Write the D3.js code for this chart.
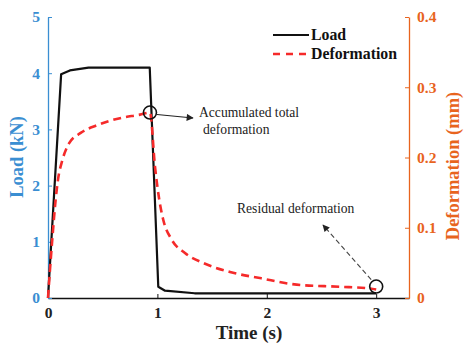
<!DOCTYPE html>
<html>
<head>
<meta charset="utf-8">
<script src="https://cdn.jsdelivr.net/npm/d3@7"></script>
<style>
  html, body { margin: 0; padding: 0; background: #fff; }
  svg { display: block; font-family: "Liberation Serif", "Times New Roman", serif; }
</style>
</head>
<body>
<svg id="chart" width="467" height="348"></svg>
<script>
// Load history (time in s, load in kN)
const loadTime  = [0, 0.12, 0.2, 0.37, 0.93, 1.008, 1.07, 1.34, 3.0];
const loadValue = [0, 3.98, 4.05, 4.1, 4.1, 0.2, 0.13, 0.084, 0.084];

// Deformation history (time in s, deformation in mm)
const defTime  = [0, 0.018, 0.039, 0.07, 0.091, 0.131, 0.192, 0.299, 0.45, 0.658, 0.841, 0.932,
                  0.978, 1.017, 1.054, 1.131, 1.252, 1.417, 1.664, 1.95, 2.273, 2.67, 2.94, 3.0];
const defValue = [0, 0.04, 0.083, 0.14, 0.168, 0.196, 0.22, 0.235, 0.246, 0.256, 0.261, 0.264,
                  0.187, 0.14, 0.111, 0.083, 0.064, 0.05, 0.037, 0.028, 0.019, 0.016, 0.0135, 0.012];

const timeTicks = [0, 1, 2, 3];
const loadTicks = [0, 1, 2, 3, 4, 5];
const defTicks  = [0, 0.1, 0.2, 0.3, 0.4];

const BLUE = "#3a8ed2", ORANGE = "#e8641e", RED = "#f52a2a";

const svg = d3.select("#chart");
const m = { left: 48, right: 409, top: 17, bottom: 298 };

const x  = d3.scaleLinear().domain([0, 3.3]).range([m.left, m.right]);
const yL = d3.scaleLinear().domain([0, 5]).range([m.bottom, m.top]);
const yR = d3.scaleLinear().domain([0, 0.4]).range([m.bottom, m.top]);

// Axes (ticks point inward)
const gx = svg.append("g").attr("transform", `translate(0,${m.bottom})`)
  .call(d3.axisBottom(x).tickValues(timeTicks).tickSizeInner(-4).tickSizeOuter(0).tickPadding(9).tickFormat(d3.format("d")));
gx.select(".domain").attr("stroke", "#111").attr("stroke-width", 1.3);
gx.selectAll(".tick line").attr("stroke", "#111");
gx.selectAll(".tick text").attr("font-size", 15.5).attr("font-weight", "bold").attr("fill", "#222")
  .attr("font-family", "Liberation Serif");

const gl = svg.append("g").attr("transform", `translate(${m.left},0)`)
  .call(d3.axisLeft(yL).tickValues(loadTicks).tickSizeInner(-4).tickSizeOuter(0).tickPadding(8).tickFormat(d3.format("d")));
gl.select(".domain").attr("stroke", BLUE).attr("stroke-width", 1.3);
gl.selectAll(".tick line").attr("stroke", BLUE);
gl.selectAll(".tick text").attr("font-size", 15.5).attr("font-weight", "bold").attr("fill", BLUE)
  .attr("font-family", "Liberation Serif");

const gr = svg.append("g").attr("transform", `translate(${m.right},0)`)
  .call(d3.axisRight(yR).tickValues(defTicks).tickSizeInner(-4).tickSizeOuter(0).tickPadding(8)
    .tickFormat(d => d === 0 ? "0" : d3.format(".1f")(d)));
gr.select(".domain").attr("stroke", ORANGE).attr("stroke-width", 1.3);
gr.selectAll(".tick line").attr("stroke", ORANGE);
gr.selectAll(".tick text").attr("font-size", 15.5).attr("font-weight", "bold").attr("fill", ORANGE)
  .attr("font-family", "Liberation Serif");

// Axis titles
svg.append("text").attr("x", 249).attr("y", 339).attr("text-anchor", "middle")
  .attr("font-size", 19).attr("font-weight", "bold").attr("fill", "#222").text("Time (s)");
svg.append("text").attr("transform", "translate(23,157) rotate(-90)").attr("text-anchor", "middle")
  .attr("font-size", 18.5).attr("font-weight", "bold").attr("fill", BLUE).text("Load (kN)");
svg.append("text").attr("transform", "translate(459,166) rotate(-90)").attr("text-anchor", "middle")
  .attr("font-size", 18.5).attr("font-weight", "bold").attr("fill", ORANGE).text("Deformation (mm)");

// Series
const loadLine = d3.line().x(i => x(loadTime[i])).y(i => yL(loadValue[i]));
svg.append("path").attr("d", loadLine(d3.range(loadTime.length)))
  .attr("fill", "none").attr("stroke", "#111").attr("stroke-width", 2.2).attr("stroke-linejoin", "round");

const defLine = d3.line().curve(d3.curveMonotoneX).x(i => x(defTime[i])).y(i => yR(defValue[i]));
svg.append("path").attr("d", defLine(d3.range(defTime.length)))
  .attr("fill", "none").attr("stroke", RED).attr("stroke-width", 2.6).attr("stroke-dasharray", "8,5");

// Annotations
const defs = svg.append("defs");
defs.append("marker").attr("id", "arrowHead").attr("viewBox", "0 0 10 10").attr("refX", 9).attr("refY", 5)
  .attr("markerWidth", 9).attr("markerHeight", 7).attr("markerUnits", "userSpaceOnUse").attr("orient", "auto")
  .append("path").attr("d", "M0,0 L10,5 L0,10 Z").attr("fill", "#222");

const peakIdx = d3.maxIndex(defValue);
const endIdx = defValue.length - 1;
const px = x(defTime[peakIdx]), py = yR(defValue[peakIdx]);
const ex = x(defTime[endIdx]), ey = yR(defValue[endIdx]) - 3;

svg.append("circle").attr("cx", px).attr("cy", py).attr("r", 6.5)
  .attr("fill", "none").attr("stroke", "#111").attr("stroke-width", 1.6);
svg.append("circle").attr("cx", ex).attr("cy", ey).attr("r", 6.5)
  .attr("fill", "none").attr("stroke", "#111").attr("stroke-width", 1.6);

svg.append("line").attr("x1", px + 7).attr("y1", py + 2).attr("x2", 193).attr("y2", 118)
  .attr("stroke", "#222").attr("stroke-width", 1.1).attr("marker-end", "url(#arrowHead)");
svg.append("line").attr("x1", ex - 5).attr("y1", ey - 7).attr("x2", 323).attr("y2", 225)
  .attr("stroke", "#444").attr("stroke-width", 1.1).attr("stroke-dasharray", "5,3")
  .attr("marker-end", "url(#arrowHead)");

svg.append("text").attr("x", 199).attr("y", 117).attr("font-size", 13.6).attr("fill", "#222").text("Accumulated total");
svg.append("text").attr("x", 203).attr("y", 134).attr("font-size", 13.6).attr("fill", "#222").text("deformation");
svg.append("text").attr("x", 237).attr("y", 213).attr("font-size", 13.6).attr("fill", "#222").text("Residual deformation");

// Legend
svg.append("line").attr("x1", 273).attr("x2", 309).attr("y1", 35).attr("y2", 35)
  .attr("stroke", "#111").attr("stroke-width", 2.2);
svg.append("line").attr("x1", 273).attr("x2", 309).attr("y1", 54).attr("y2", 54)
  .attr("stroke", RED).attr("stroke-width", 2.4).attr("stroke-dasharray", "7,6");
svg.append("text").attr("x", 311).attr("y", 40).attr("font-size", 15.8).attr("font-weight", "bold")
  .attr("fill", "#111").text("Load");
svg.append("text").attr("x", 311).attr("y", 59).attr("font-size", 15.8).attr("font-weight", "bold")
  .attr("fill", "#111").text("Deformation");
</script>
</body>
</html>
